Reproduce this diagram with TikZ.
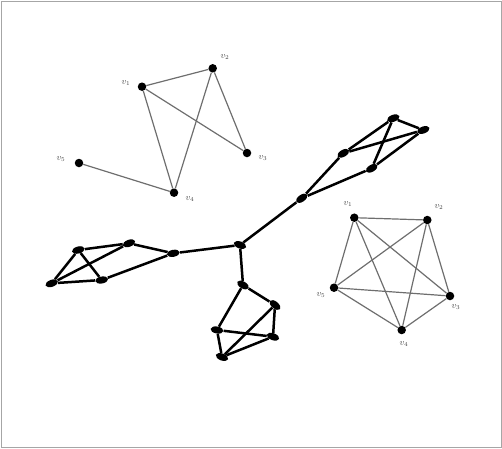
\documentclass[tikz,border=0pt]{standalone}
\usepackage{tikz}
\usetikzlibrary{shapes.geometric}
\definecolor{edgeGray}{HTML}{6E6E6E}
\definecolor{labelGray}{HTML}{444444}

\begin{document}
\begin{tikzpicture}[x=1pt, y=-1pt,
      vert/.style={circle, fill=black, inner sep=0pt, minimum size=8.5pt},
      blob/.style={ellipse, fill=black, inner sep=0pt, minimum width=13pt, minimum height=7pt},
      thin edge/.style={draw=edgeGray, line width=1.2pt},
      thick edge/.style={draw=black, line width=2.5pt},
      vlab/.style={font=\small\itshape, text=labelGray, inner sep=1pt}]
    \useasboundingbox (0,0) rectangle (502,448);
    \draw[gray!70, line width=1pt] (1,1) rectangle (501,447);

    % small graph, top left
    \node[vert] (a2) at (212.7,68.3) {};
    \node[vert] (a1) at (142,86.7) {};
    \node[vert] (a3) at (247,153) {};
    \node[vert] (a4) at (174,192.7) {};
    \node[vert] (a5) at (79,163) {};
    \node[vlab] at (225,57) {$v_2$};
    \node[vlab] at (126,83) {$v_1$};
    \node[vlab] at (263,158) {$v_3$};
    \node[vlab] at (190,199) {$v_4$};
    \node[vlab] at (61,159) {$v_5$};
    \draw[thin edge] (a1) -- (a2);
    \draw[thin edge] (a1) -- (a4);
    \draw[thin edge] (a1) -- (a3);
    \draw[thin edge] (a2) -- (a4);
    \draw[thin edge] (a2) -- (a3);
    \draw[thin edge] (a5) -- (a4);

    % complete graph, right
    \node[vert] (p1) at (354.3,217.7) {};
    \node[vert] (p2) at (427.3,220) {};
    \node[vert] (p3) at (450,296) {};
    \node[vert] (p4) at (401.7,330) {};
    \node[vert] (p5) at (334,287.7) {};
    \node[vlab] at (348,204) {$v_1$};
    \node[vlab] at (439,207) {$v_2$};
    \node[vlab] at (456,307) {$v_3$};
    \node[vlab] at (404,344) {$v_4$};
    \node[vlab] at (321,295) {$v_5$};
    \foreach \i/\j in {1/2,1/3,1/4,1/5,2/3,2/4,2/5,3/4,3/5,4/5}
      \draw[thin edge] (p\i) -- (p\j);

    % thick tree with three clusters
    \node[blob, rotate=-20] (hub) at (240,245) {};
    % left cluster
    \node[blob, rotate=20] (l1) at (51.7,283.3) {};
    \node[blob, rotate=15] (l2) at (78.3,250) {};
    \node[blob, rotate=10] (l3) at (101.7,280) {};
    \node[blob, rotate=20] (l4) at (129,243.3) {};
    \node[blob, rotate=10] (l5) at (173.3,253.3) {};
    % bottom cluster
    \node[blob, rotate=-30] (b1) at (243,285) {};
    \node[blob, rotate=-40] (b2) at (275,305) {};
    \node[blob, rotate=-10] (b3) at (217,330) {};
    \node[blob, rotate=-20] (b4) at (273,336.7) {};
    \node[blob, rotate=-20] (b5) at (222,357) {};
    % upper right cluster
    \node[blob, rotate=35] (r1) at (301.7,198.3) {};
    \node[blob, rotate=30] (r2) at (343.3,153.3) {};
    \node[blob, rotate=30] (r3) at (371.7,168.3) {};
    \node[blob, rotate=20] (r4) at (393.3,118.3) {};
    \node[blob, rotate=20] (r5) at (423.3,130) {};

    \draw[thick edge] (hub) -- (l5);
    \draw[thick edge] (hub) -- (b1);
    \draw[thick edge] (hub) -- (r1);
    \foreach \i/\j in {1/2,1/3,2/3,2/4,1/4,4/5,3/5}
      \draw[thick edge] (l\i) -- (l\j);
    \foreach \i/\j in {1/2,1/3,2/4,3/4,3/5,5/4,5/2}
      \draw[thick edge] (b\i) -- (b\j);
    \foreach \i/\j in {1/2,1/3,2/4,2/5,3/4,3/5,4/5}
      \draw[thick edge] (r\i) -- (r\j);
\end{tikzpicture}
\end{document}
